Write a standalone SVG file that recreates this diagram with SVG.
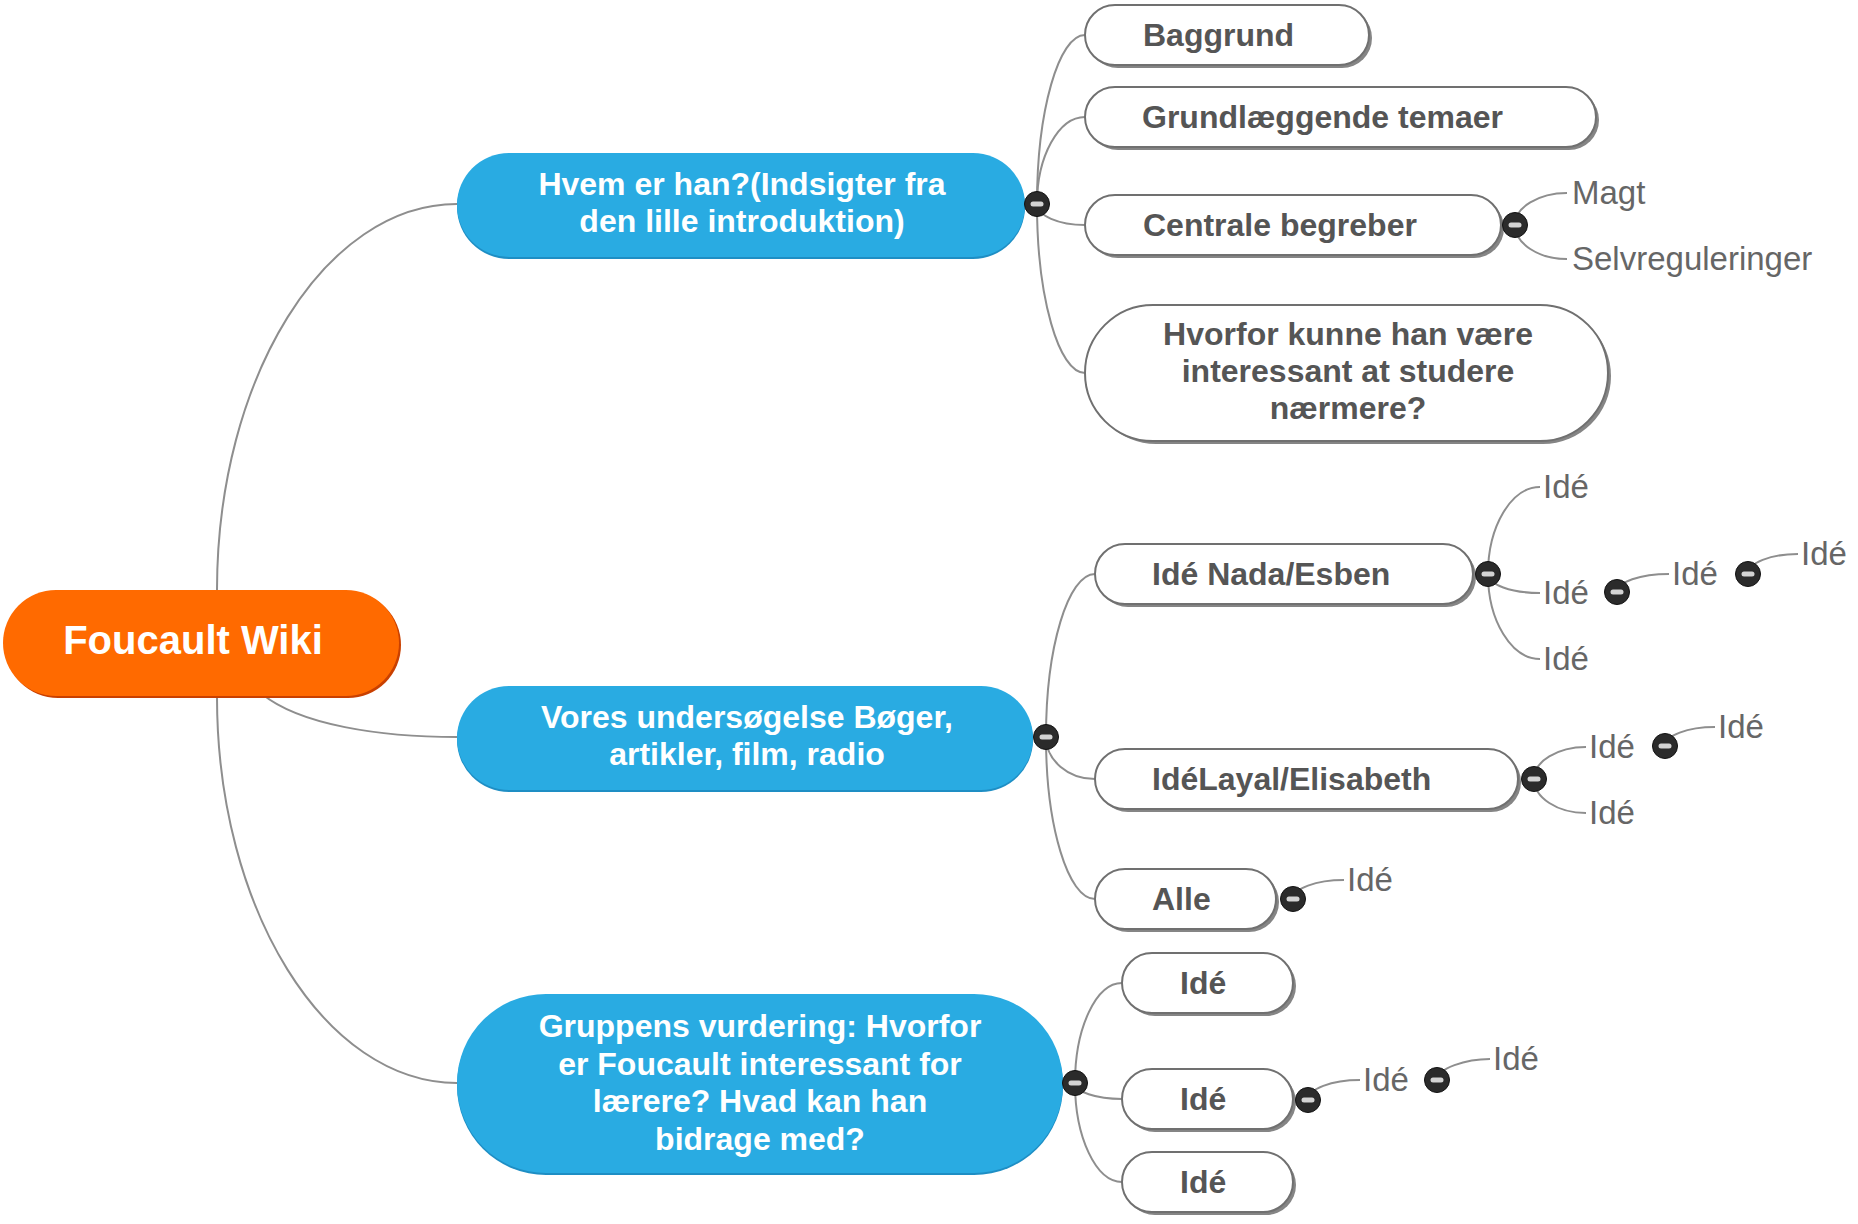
<svg xmlns="http://www.w3.org/2000/svg" width="1858" height="1224" viewBox="0 0 1858 1224">
<style>
.conn path{fill:none;stroke:#8e8e8e;stroke-width:2}
.t{font-family:"Liberation Sans",Arial,sans-serif}
.root{fill:#ff6a00}
.rootsh{fill:#c94000}
.main{fill:#29abe2}
.mainsh{fill:#1e8ec4}
.mt{font-family:"Liberation Sans",Arial,sans-serif;font-weight:bold;font-size:32px;fill:#ffffff;text-anchor:middle}
.sub{fill:#ffffff;stroke:#707070;stroke-width:2}
.subsh{fill:#858585}
.st{font-family:"Liberation Sans",Arial,sans-serif;font-weight:bold;font-size:32px;fill:#555555}
.lt{font-family:"Liberation Sans",Arial,sans-serif;font-size:33px;fill:#666666}
</style>
<defs>
<g id="minus"><circle cx="0" cy="0" r="12.5" fill="#2b2b2b" stroke="#111111" stroke-width="1"/><rect x="-6.5" y="-2.5" width="13" height="5" rx="2.5" fill="#d4d4d4"/></g>
</defs>
<rect width="1858" height="1224" fill="#ffffff"/>
<g id="connectors" class="conn">
<path d="M217 590 C217 377.7 325 204 457 204"/>
<path d="M262 694 C300 725 380 737 457 737"/>
<path d="M217 697 C217 909.3 325 1083 457 1083"/>
<path d="M1037 204 C1037 111 1058.6 35 1085 35"/>
<path d="M1037 204 C1037 156.2 1058.6 117 1085 117"/>
<path d="M1037 204 C1037 215.6 1058.6 225 1085 225"/>
<path d="M1037 204 C1037 297 1058.6 373 1085 373"/>
<path d="M1046 737 C1046 647.4 1068 574 1095 574"/>
<path d="M1046 737 C1046 760.1 1068 779 1095 779"/>
<path d="M1046 737 C1046 826.1 1068 899 1095 899"/>
<path d="M1075 1083 C1075 1028 1096 983 1122 983"/>
<path d="M1075 1083 C1075 1091.8 1096 1099 1122 1099"/>
<path d="M1075 1083 C1075 1137.5 1096 1182 1122 1182"/>
<path d="M1515 225 C1515 207.4 1538.4 193 1567 193"/>
<path d="M1515 225 C1515 243.7 1538.4 259 1567 259"/>
<path d="M1488 574 C1488 526.2 1511.4 487 1540 487"/>
<path d="M1488 574 C1488 584.5 1511.4 593 1540 593"/>
<path d="M1488 574 C1488 620.8 1511.4 659 1540 659"/>
<path d="M1617 592 C1617 582.1 1640.4 574 1669 574"/>
<path d="M1748 574 C1748 563 1770.5 554 1798 554"/>
<path d="M1534 779 C1534 761.4 1557.4 747 1586 747"/>
<path d="M1534 779 C1534 797.7 1557.4 813 1586 813"/>
<path d="M1665 746 C1665 735.5 1687.5 727 1715 727"/>
<path d="M1293 899 C1293 888.5 1316 880 1344 880"/>
<path d="M1308 1100 C1308 1089 1331.4 1080 1360 1080"/>
<path d="M1437 1080 C1437 1068.5 1466 1059 1490 1059"/>
</g>
<g id="root">
<rect class="rootsh" x="5" y="592" width="396" height="106" rx="53"/>
<rect class="root" x="3" y="590" width="396" height="106" rx="53"/>
<text class="t" x="193" y="654" font-size="40" font-weight="bold" fill="#ffffff" text-anchor="middle">Foucault Wiki</text>
</g>
<g id="hvem">
<rect class="mainsh" x="457" y="155" width="568" height="104" rx="52"/>
<rect class="main" x="457" y="153" width="568" height="104" rx="52"/>
<text class="mt" x="742" y="195">Hvem er han?(Indsigter fra</text>
<text class="mt" x="742" y="232">den lille introduktion)</text>
</g>
<g id="vores">
<rect class="mainsh" x="457" y="688" width="576" height="104" rx="52"/>
<rect class="main" x="457" y="686" width="576" height="104" rx="52"/>
<text class="mt" x="747" y="728">Vores undersøgelse Bøger,</text>
<text class="mt" x="747" y="765">artikler, film, radio</text>
</g>
<g id="gruppens">
<rect class="mainsh" x="457" y="996" width="606" height="179" rx="89"/>
<rect class="main" x="457" y="994" width="606" height="179" rx="89"/>
<text class="mt" x="760" y="1037">Gruppens vurdering: Hvorfor</text>
<text class="mt" x="760" y="1074.5">er Foucault interessant for</text>
<text class="mt" x="760" y="1112">lærere? Hvad kan han</text>
<text class="mt" x="760" y="1149.5">bidrage med?</text>
</g>
<g id="baggrund">
<rect class="subsh" x="1088" y="8" width="284" height="60" rx="30"/>
<rect class="sub" x="1085" y="5" width="284" height="60" rx="30"/>
<text class="st" x="1143" y="46">Baggrund</text>
</g>
<g id="grundlaeggende">
<rect class="subsh" x="1088" y="90" width="511" height="60" rx="30"/>
<rect class="sub" x="1085" y="87" width="511" height="60" rx="30"/>
<text class="st" x="1142" y="128">Grundlæggende temaer</text>
</g>
<g id="centrale">
<rect class="subsh" x="1088" y="198" width="416" height="60" rx="30"/>
<rect class="sub" x="1085" y="195" width="416" height="60" rx="30"/>
<text class="st" x="1143" y="236">Centrale begreber</text>
</g>
<g id="hvorfor">
<rect class="subsh" x="1088" y="308" width="523" height="136" rx="68"/>
<rect class="sub" x="1085" y="305" width="523" height="136" rx="68"/>
<text class="st" x="1348" y="345" text-anchor="middle">Hvorfor kunne han være</text>
<text class="st" x="1348" y="382" text-anchor="middle">interessant at studere</text>
<text class="st" x="1348" y="419" text-anchor="middle">nærmere?</text>
</g>
<g id="magt"><text class="lt" x="1572" y="204">Magt</text></g>
<g id="selvreguleringer"><text class="lt" x="1572" y="270">Selvreguleringer</text></g>
<g id="nada">
<rect class="subsh" x="1098" y="547" width="378" height="60" rx="30"/>
<rect class="sub" x="1095" y="544" width="378" height="60" rx="30"/>
<text class="st" x="1152" y="585">Idé Nada/Esben</text>
</g>
<g id="nada-ide1"><text class="lt" x="1543" y="498">Idé</text></g>
<g id="nada-ide2"><text class="lt" x="1543" y="604">Idé</text></g>
<g id="nada-ide3"><text class="lt" x="1543" y="670">Idé</text></g>
<g id="nada-ide2a"><text class="lt" x="1672" y="585">Idé</text></g>
<g id="nada-ide2b"><text class="lt" x="1801" y="565">Idé</text></g>
<g id="layal">
<rect class="subsh" x="1098" y="752" width="423" height="60" rx="30"/>
<rect class="sub" x="1095" y="749" width="423" height="60" rx="30"/>
<text class="st" x="1152" y="790">IdéLayal/Elisabeth</text>
</g>
<g id="layal-ide1"><text class="lt" x="1589" y="758">Idé</text></g>
<g id="layal-ide2"><text class="lt" x="1589" y="824">Idé</text></g>
<g id="layal-ide1a"><text class="lt" x="1718" y="738">Idé</text></g>
<g id="alle">
<rect class="subsh" x="1098" y="872" width="181" height="60" rx="30"/>
<rect class="sub" x="1095" y="869" width="181" height="60" rx="30"/>
<text class="st" x="1152" y="910">Alle</text>
</g>
<g id="alle-ide"><text class="lt" x="1347" y="891">Idé</text></g>
<g id="g-ide1">
<rect class="subsh" x="1125" y="956" width="171" height="60" rx="30"/>
<rect class="sub" x="1122" y="953" width="171" height="60" rx="30"/>
<text class="st" x="1180" y="994">Idé</text>
</g>
<g id="g-ide2">
<rect class="subsh" x="1125" y="1072" width="171" height="60" rx="30"/>
<rect class="sub" x="1122" y="1069" width="171" height="60" rx="30"/>
<text class="st" x="1180" y="1110">Idé</text>
</g>
<g id="g-ide3">
<rect class="subsh" x="1125" y="1155" width="171" height="60" rx="30"/>
<rect class="sub" x="1122" y="1152" width="171" height="60" rx="30"/>
<text class="st" x="1180" y="1193">Idé</text>
</g>
<g id="g-ide2a"><text class="lt" x="1363" y="1091">Idé</text></g>
<g id="g-ide2b"><text class="lt" x="1493" y="1070">Idé</text></g>
<g id="buttons">
<use href="#minus" x="1037" y="204"/>
<use href="#minus" x="1046" y="737"/>
<use href="#minus" x="1075" y="1083"/>
<use href="#minus" x="1515" y="225"/>
<use href="#minus" x="1488" y="574"/>
<use href="#minus" x="1534" y="779"/>
<use href="#minus" x="1293" y="899"/>
<use href="#minus" x="1308" y="1100"/>
<use href="#minus" x="1617" y="592"/>
<use href="#minus" x="1748" y="574"/>
<use href="#minus" x="1665" y="746"/>
<use href="#minus" x="1437" y="1080"/>
</g>
</svg>
